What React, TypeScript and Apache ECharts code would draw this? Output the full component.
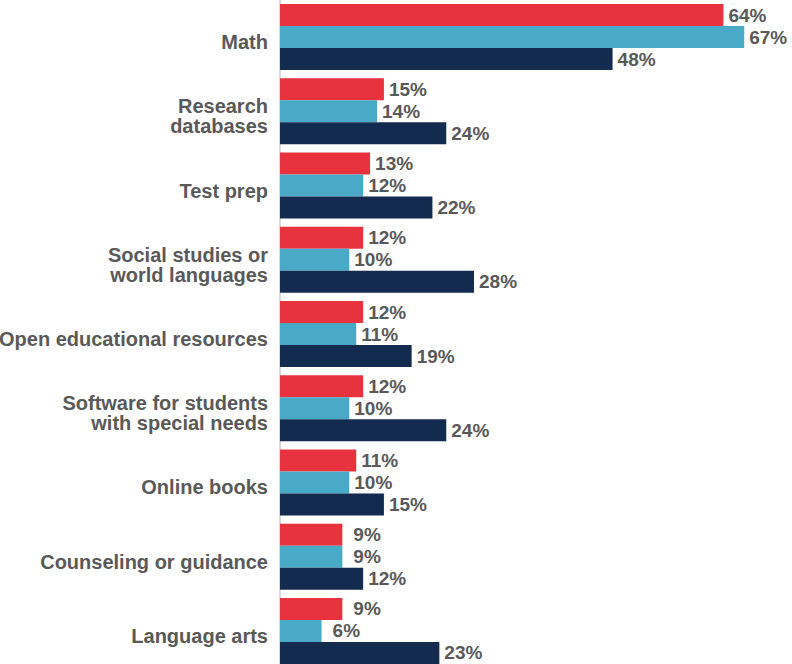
import React, { useEffect, useRef } from "react";
import * as echarts from "echarts";

const categories = [
  "Math",
  "Research\ndatabases",
  "Test prep",
  "Social studies or\nworld languages",
  "Open educational resources",
  "Software for students\nwith special needs",
  "Online books",
  "Counseling or guidance",
  "Language arts",
];
const seriesRed = [64, 15, 13, 12, 12, 12, 11, 9, 9];
const seriesBlue = [67, 14, 12, 10, 11, 10, 10, 9, 6];
const seriesNavy = [48, 24, 22, 28, 19, 24, 15, 12, 23];

const COLORS = ["#E8333F", "#48AAC6", "#142B50"];
const FONT = "Arial, 'Liberation Sans', sans-serif";
const TEXT = "#595959";

function mkSeries(name: string, values: number[], color: string) {
  return {
    name,
    type: "bar",
    barWidth: 22,
    barGap: "0%",
    itemStyle: { color },
    data: values.map((v) => ({
      value: v,
      label: { distance: v < 10 ? 11 : 5 },
    })),
    label: {
      show: true,
      position: "right",
      formatter: "{c}%",
      color: TEXT,
      fontSize: 19,
      fontWeight: "bold",
      fontFamily: FONT,
    },
  };
}

export default function App() {
  const ref = useRef<HTMLDivElement>(null);
  useEffect(() => {
    if (!ref.current) return;
    const chart = echarts.init(ref.current, undefined, { renderer: "svg" });
    chart.setOption({
      animation: false,
      grid: {
        left: 280,
        top: 0,
        width: 485,
        height: 668,
        containLabel: false,
        outerBoundsMode: "none",
      },
      xAxis: {
        type: "value",
        min: 0,
        max: 70,
        show: false,
      },
      yAxis: {
        type: "category",
        inverse: true,
        data: categories,
        axisLine: { show: true, lineStyle: { color: "#D9D9D9", width: 2 } },
        axisTick: { show: false },
        axisLabel: {
          margin: 12,
          align: "right",
          formatter: (v: string) =>
            "{s|}\n" + v.split("\n").map((l) => "{t|" + l + "}").join("\n"),
          rich: {
            s: { lineHeight: 10, fontSize: 10 },
            t: {
              color: TEXT,
              fontSize: 20,
              fontWeight: "bold",
              fontFamily: FONT,
              lineHeight: 20,
              align: "right",
            },
          },
        },
      },
      series: [
        mkSeries("A", seriesRed, COLORS[0]),
        mkSeries("B", seriesBlue, COLORS[1]),
        mkSeries("C", seriesNavy, COLORS[2]),
      ],
    });
    return () => chart.dispose();
  }, []);
  return (
    <div
      ref={ref}
      style={{ width: 792, height: 664, position: "absolute", left: 0, top: 0 }}
    />
  );
}
